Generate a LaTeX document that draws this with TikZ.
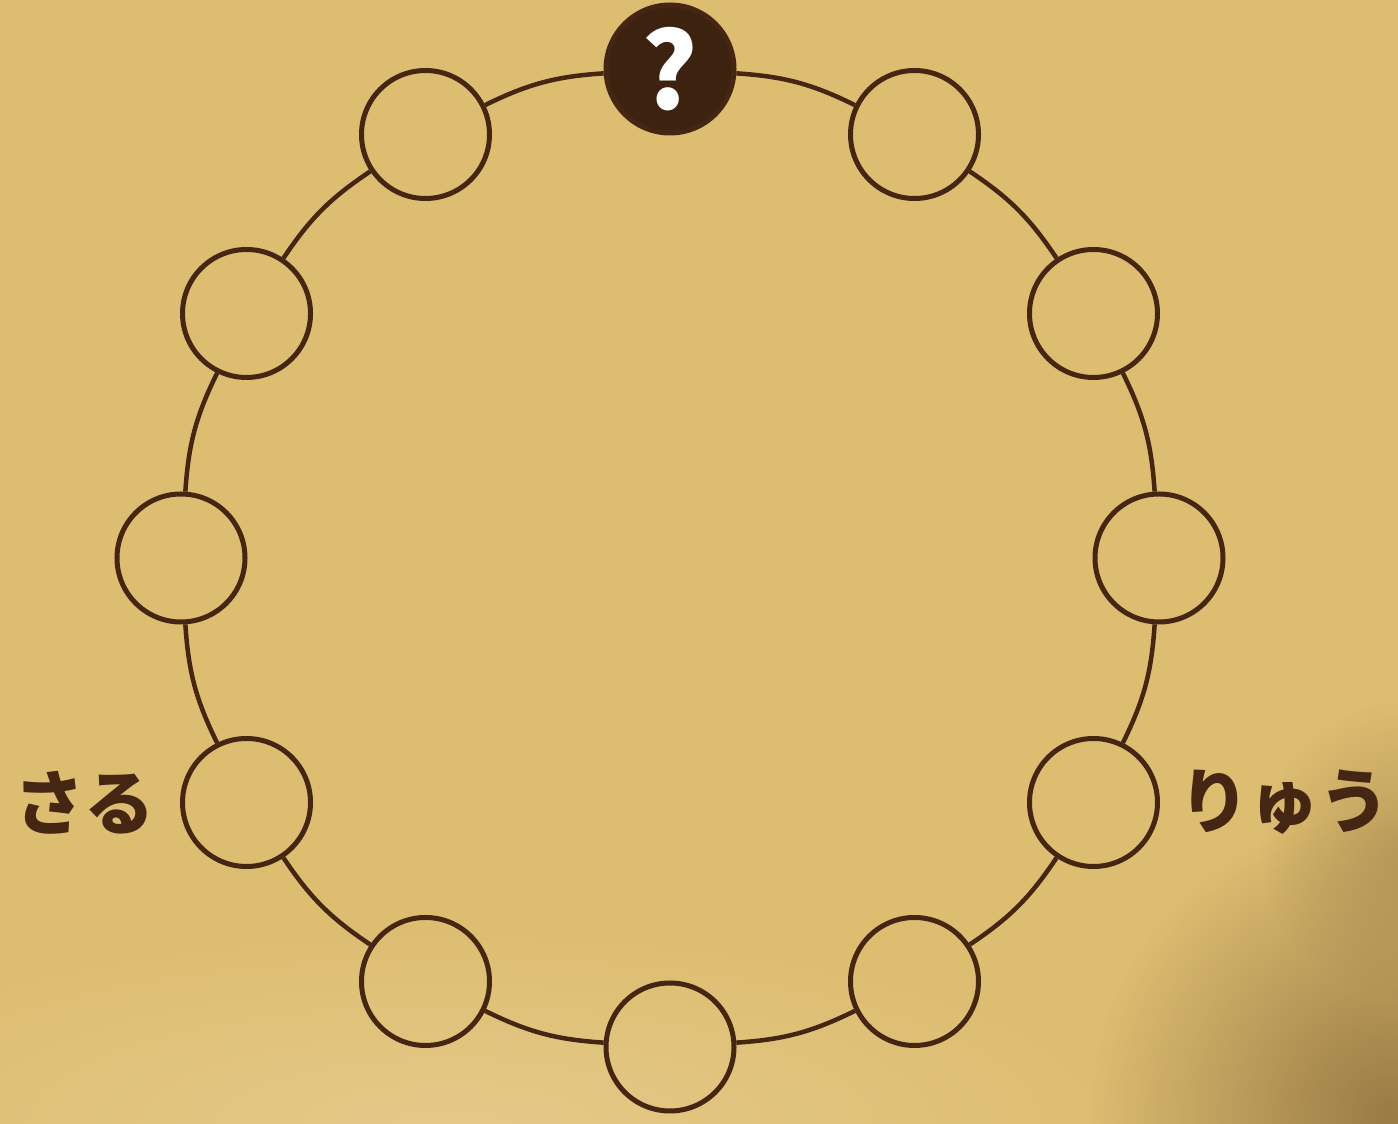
\documentclass[tikz,border=0pt]{standalone}
\usepackage{fontspec}
\newfontfamily\jpfont{Noto Sans CJK JP}
\usetikzlibrary{positioning,calc,fadings}
\tikzfading[name=spotfade, inner color=transparent!0, outer color=transparent!100]
\definecolor{parchment}{RGB}{221,189,112}
\definecolor{inkbrown}{RGB}{68,38,18}
\definecolor{darkspot}{RGB}{125,95,50}
\definecolor{lightspot}{RGB}{236,214,160}
\begin{document}
\begin{tikzpicture}

% --- Styles ---
\tikzset{
    spot/.style={circle, draw=inkbrown, line width=0.1cm, minimum size=2.56cm, inner sep=0pt},
    asked/.style={spot, fill=inkbrown!90!black, text=white, font=\jpfont\bfseries\fontsize{60}{60}\selectfont},
    ring/.style={draw=inkbrown, line width=0.09cm},
    animal/.style={text=inkbrown, inner sep=0pt, font=\jpfont\bfseries\fontsize{40}{48}\selectfont}
}

    % Background
    \useasboundingbox (0,0) rectangle (27.96,22.48);
    \begin{scope}
        \clip (0,0) rectangle (27.96,22.48);
        \fill[parchment] (0,0) rectangle (27.96,22.48);
        \fill[lightspot, opacity=0.5, path fading=spotfade] (9,0) ellipse (14cm and 4cm);
        \fill[darkspot, opacity=0.7, path fading=spotfade] (27.8,0.2) circle (6cm);
        \fill[darkspot, opacity=0.35, path fading=spotfade] (28.2,5.5) circle (3cm);
    \end{scope}

    % Centre of the ring
    \coordinate (c) at (13.4,11.32);

    % Twelve spots, the top one is asked
    \node[asked] (s0) at ($(c)+(90:9.78)$) {?};
    \foreach \i in {1,...,11} {
        \node[spot] (s\i) at ($(c)+({90-30*\i}:9.78)$) {};
    }

    % Ring between neighbouring spots
    \foreach \i in {0,...,11} {
        \pgfmathtruncatemacro\j{mod(\i+1,12)}
        \draw[ring] (s\i) to[bend left=11.25] (s\j);
    }

    % Labels
    \node[animal, left=0.5cm of s8] (saru) {さる};
    \node[animal, right=0.38cm of s4] (ryuu) {りゅう};

\end{tikzpicture}
\end{document}
